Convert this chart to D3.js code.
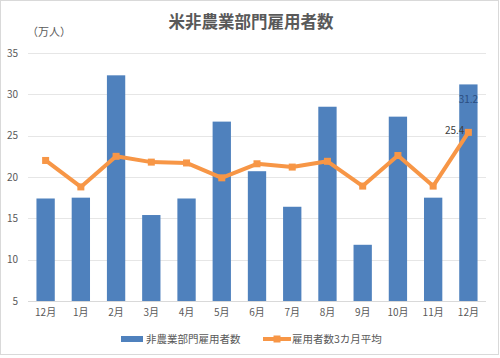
<!DOCTYPE html>
<html>
<head>
<meta charset="utf-8">
<script src="https://cdn.jsdelivr.net/npm/d3@7"></script>
<style>
  body { margin: 0; background: #fff; }
  text { font-family: "Noto Sans CJK JP", "Noto Sans", sans-serif; }
</style>
</head>
<body>
<div id="chart"></div>
<script>
// data
var months = ['12月', '1月', '2月', '3月', '4月', '5月', '6月', '7月', '8月', '9月', '10月', '11月', '12月']
var payrolls = [17.4, 17.5, 32.3, 15.4, 17.4, 26.7, 20.7, 16.4, 28.5, 11.8, 27.3, 17.5, 31.2]
var avg3m = [22.0, 18.8, 22.5, 21.8, 21.7, 19.9, 21.6, 21.2, 21.9, 18.9, 22.6, 18.9, 25.4]
var yTicks = [5, 10, 15, 20, 25, 30, 35]

var width = 500
var height = 358
var margin = { top: 53, right: 14, bottom: 57, left: 28 }

var svg = d3.select('#chart').append('svg')
  .attr('width', width)
  .attr('height', height)

// outer frame
svg.append('rect')
  .attr('x', 0.5).attr('y', 0.5)
  .attr('width', width - 2).attr('height', height - 4)
  .attr('fill', '#fff')
  .attr('stroke', '#d9d9d9')

var x = d3.scaleBand()
  .domain(d3.range(months.length))
  .range([margin.left, width - margin.right])
  .paddingInner(0.48)
  .paddingOuter(0.24)

var y = d3.scaleLinear()
  .domain([5, 35])
  .range([height - margin.bottom, margin.top])

// gridlines
svg.append('g')
  .selectAll('line')
  .data(yTicks)
  .join('line')
  .attr('x1', margin.left)
  .attr('x2', width - margin.right)
  .attr('y1', d => Math.round(y(d)) + 0.5)
  .attr('y2', d => Math.round(y(d)) + 0.5)
  .attr('stroke', d => d === 5 ? '#d9d9d9' : '#e6e6e6')

// y axis labels
var yAxis = d3.axisLeft(y).tickValues(yTicks).tickSize(0).tickPadding(0)
svg.append('g')
  .attr('transform', 'translate(' + 18 + ',0)')
  .call(yAxis)
  .call(g => g.select('.domain').remove())
  .selectAll('text')
  .attr('font-size', 10)
  .attr('fill', '#595959')

// x axis labels
var xAxis = d3.axisBottom(x).tickFormat(i => months[i]).tickSize(0).tickPadding(8)
svg.append('g')
  .attr('transform', 'translate(0,' + (height - margin.bottom) + ')')
  .call(xAxis)
  .call(g => g.select('.domain').remove())
  .selectAll('text')
  .attr('font-size', 10)
  .attr('fill', '#595959')

// bars
svg.append('g')
  .selectAll('rect')
  .data(payrolls)
  .join('rect')
  .attr('x', (d, i) => x(i))
  .attr('y', d => y(d))
  .attr('width', x.bandwidth())
  .attr('height', d => y(5) - y(d))
  .attr('fill', '#4f81bd')

// 3 month average line
var line = d3.line()
  .x((d, i) => x(i) + x.bandwidth() / 2)
  .y(d => y(d))

svg.append('path')
  .datum(avg3m)
  .attr('d', line)
  .attr('fill', 'none')
  .attr('stroke', '#f79646')
  .attr('stroke-width', 4)
  .attr('stroke-linejoin', 'round')

svg.append('g')
  .selectAll('rect')
  .data(avg3m)
  .join('rect')
  .attr('x', (d, i) => x(i) + x.bandwidth() / 2 - 3.5)
  .attr('y', d => y(d) - 3.5)
  .attr('width', 7)
  .attr('height', 7)
  .attr('fill', '#f79646')

// data labels on the last point
var last = months.length - 1
svg.append('text')
  .attr('x', x(last) + x.bandwidth() / 2)
  .attr('y', y(payrolls[last]) + 19)
  .attr('text-anchor', 'middle')
  .attr('font-size', 10)
  .attr('fill', '#2c4d80')
  .text(payrolls[last].toFixed(1))

svg.append('text')
  .attr('x', x(last) + x.bandwidth() / 2 - 4)
  .attr('y', y(avg3m[last]) + 2)
  .attr('text-anchor', 'end')
  .attr('font-size', 10)
  .attr('fill', '#404040')
  .text(avg3m[last].toFixed(1))

// title and unit
svg.append('text')
  .attr('x', 251)
  .attr('y', 28)
  .attr('text-anchor', 'middle')
  .attr('font-size', 16.5)
  .attr('font-weight', 'bold')
  .attr('fill', '#595959')
  .text('米非農業部門雇用者数')

svg.append('text')
  .attr('x', 27)
  .attr('y', 36)
  .attr('font-size', 11)
  .attr('fill', '#595959')
  .text('（万人）')

// legend
var legend = svg.append('g').attr('transform', 'translate(0,339)')
legend.append('rect')
  .attr('x', 121).attr('y', -3)
  .attr('width', 22).attr('height', 6)
  .attr('fill', '#4f81bd')
legend.append('text')
  .attr('x', 146).attr('y', 4)
  .attr('font-size', 10.5)
  .attr('fill', '#595959')
  .text('非農業部門雇用者数')

legend.append('line')
  .attr('x1', 263).attr('x2', 291)
  .attr('y1', 0).attr('y2', 0)
  .attr('stroke', '#f79646')
  .attr('stroke-width', 4)
legend.append('rect')
  .attr('x', 273.5).attr('y', -3.5)
  .attr('width', 7).attr('height', 7)
  .attr('fill', '#f79646')
legend.append('text')
  .attr('x', 292).attr('y', 4)
  .attr('font-size', 10.5)
  .attr('fill', '#595959')
  .text('雇用者数3カ月平均')
</script>
</body>
</html>
